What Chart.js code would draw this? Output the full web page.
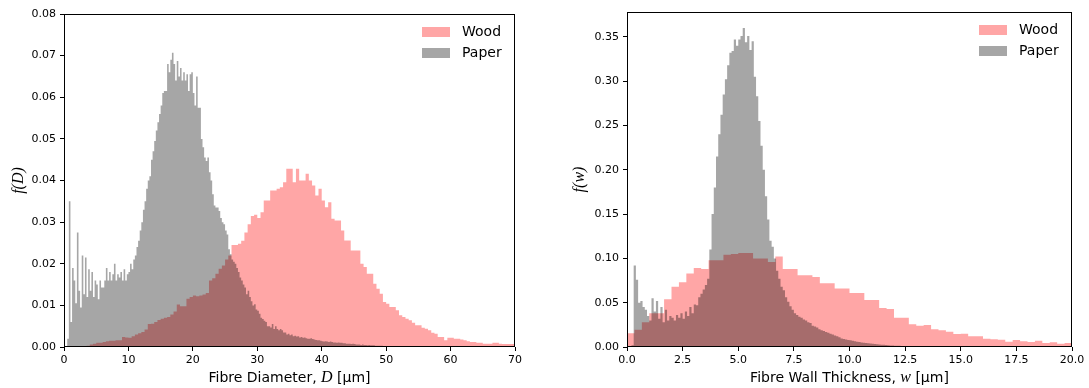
<!DOCTYPE html>
<html>
<head>
<meta charset="utf-8">
<script src="https://cdn.jsdelivr.net/npm/chart.js@4.4.1/dist/chart.umd.min.js"></script>
<style>
  html, body { margin: 0; padding: 0; background: #fff; }
  .panel { position: absolute; top: 0; height: 388px; }
  #left { left: 0; width: 545px; }
  #right { left: 545px; width: 544px; }
</style>
</head>
<body>
<div class="panel" id="left"><canvas id="diameter"></canvas></div>
<div class="panel" id="right"><canvas id="wall"></canvas></div>
<script>
// bin widths of the histograms (in µm)
const diamWoodBin = 0.5;
const diamPaperBin = 0.25;
const wallWoodBin = 1 / 3;
const wallPaperBin = 0.1;

// f(D), wood, bins of 0.5 µm from 0
const diamWood = [
  0, 0, 0, 0, 0.0001, 0.0001,
  0.0002, 0.0003, 0.0006, 0.0008, 0.001, 0.001,
  0.0012, 0.0014, 0.0015, 0.0015, 0.0016, 0.0016,
  0.0024, 0.0023, 0.0022, 0.0026, 0.003, 0.0033,
  0.0036, 0.0042, 0.0055, 0.0056, 0.006, 0.0065,
  0.0068, 0.007, 0.0072, 0.0078, 0.0085, 0.0102,
  0.0098, 0.0098, 0.0116, 0.012, 0.0124, 0.0122,
  0.0124, 0.0126, 0.013, 0.016, 0.0165, 0.0176,
  0.0188, 0.0196, 0.021, 0.022, 0.0245, 0.0245,
  0.0248, 0.0255, 0.0275, 0.0295, 0.0315, 0.0318,
  0.031, 0.0324, 0.0352, 0.0352, 0.0376, 0.0376,
  0.038, 0.0384, 0.0396, 0.0428, 0.0428, 0.0396,
  0.0428, 0.04, 0.04, 0.0416, 0.04, 0.0388,
  0.0364, 0.038, 0.0352, 0.0336, 0.0348, 0.0308,
  0.0304, 0.0304, 0.028, 0.0256, 0.0256, 0.0232,
  0.0232, 0.0232, 0.02, 0.0192, 0.0176, 0.0176,
  0.0152, 0.014, 0.0128, 0.0108, 0.0104, 0.0096,
  0.0096, 0.0088, 0.0076, 0.0072, 0.0068, 0.0064,
  0.0058, 0.0052, 0.0052, 0.0046, 0.0044, 0.004,
  0.0034, 0.0032, 0.0024, 0.0024, 0.0016, 0.0022,
  0.0022, 0.002, 0.002, 0.0018, 0.0016, 0.0014,
  0.0012, 0.0012, 0.001, 0.001, 0.0008, 0.0008,
  0.0008, 0.001, 0.001, 0.0008, 0.0007, 0.0007,
  0.0007, 0.0007
];

// f(D), paper, bins of 0.25 µm from 0
const diamPaper = [
  0, 0, 0.002, 0.035, 0.006, 0.019, 0.016, 0.0105,
  0.0275, 0.0135, 0.0095, 0.022, 0.0127, 0.0215, 0.012, 0.0187,
  0.0135, 0.018, 0.012, 0.016, 0.015, 0.0115, 0.016, 0.0143,
  0.0143, 0.016, 0.019, 0.016, 0.018, 0.016, 0.0175, 0.020,
  0.016, 0.0175, 0.0167, 0.018, 0.016, 0.0187, 0.016, 0.0175,
  0.018, 0.020, 0.0187, 0.021, 0.022, 0.024, 0.0255, 0.028,
  0.030, 0.033, 0.035, 0.038, 0.040, 0.041, 0.045, 0.047,
  0.0495, 0.052, 0.054, 0.056, 0.058, 0.061, 0.0615, 0.0615,
  0.068, 0.066, 0.069, 0.0707, 0.068, 0.064, 0.0687, 0.065,
  0.067, 0.064, 0.066, 0.064, 0.0655, 0.0615, 0.0655, 0.066,
  0.061, 0.058, 0.065, 0.0575, 0.0575, 0.050, 0.048, 0.0455,
  0.0447, 0.0455, 0.042, 0.040, 0.0367, 0.034, 0.0335, 0.0335,
  0.0327, 0.031, 0.030, 0.0295, 0.028, 0.027, 0.0235, 0.0223,
  0.021, 0.0205, 0.020, 0.019, 0.018, 0.0167, 0.016, 0.015,
  0.0143, 0.0127, 0.0135, 0.012, 0.011, 0.010, 0.0103, 0.009,
  0.0087, 0.008, 0.007, 0.0067, 0.0063, 0.006, 0.005, 0.005,
  0.0047, 0.0055, 0.0043, 0.005, 0.0043, 0.004, 0.0043, 0.004,
  0.0035, 0.0035, 0.003, 0.0032, 0.0028, 0.003, 0.0026, 0.0027,
  0.0025, 0.0026, 0.0023, 0.0024, 0.0022, 0.0023, 0.0021, 0.002,
  0.002, 0.0021, 0.0019, 0.0018, 0.0017, 0.0016, 0.0016, 0.0015,
  0.0014, 0.0013, 0.0014, 0.0013, 0.0012, 0.0013, 0.0012, 0.0011,
  0.0011, 0.001, 0.0011, 0.001, 0.001, 0.0009, 0.0009, 0.0008,
  0.0008, 0.0008, 0.0007, 0.0008, 0.0007, 0.0006, 0.0006, 0.0006,
  0.0005, 0.0006, 0.0005, 0.0005, 0.0004, 0.0005, 0.0004, 0.0004,
  0.0004, 0.0003, 0.0003, 0.0003, 0.0003, 0.0003, 0.0002, 0.0002
];

// f(w), wood, bins of 1/3 µm from 0
const wallWood = [
  0.0155, 0.0196, 0.028, 0.038, 0.038, 0.054,
  0.068, 0.073, 0.083, 0.089, 0.088, 0.098,
  0.098, 0.104, 0.105, 0.106, 0.106, 0.100,
  0.100, 0.096, 0.102, 0.088, 0.088, 0.081,
  0.081, 0.079, 0.072, 0.072, 0.066, 0.066,
  0.061, 0.061, 0.053, 0.053, 0.044, 0.043,
  0.033, 0.033, 0.0256, 0.024, 0.0248, 0.020,
  0.019, 0.0173, 0.0147, 0.015, 0.012, 0.012,
  0.0094, 0.0087, 0.0083, 0.006, 0.0079, 0.0064,
  0.0056, 0.0071, 0.0045, 0.0053, 0.0038, 0.0045
];

// f(w), paper, bins of 0.1 µm from 0
const wallPaper = [
  0, 0, 0.002, 0.092, 0.076, 0.05, 0.052, 0.045, 0.042, 0.035,
  0.03, 0.055, 0.04, 0.052, 0.032, 0.045, 0.028, 0.042, 0.03, 0.035,
  0.033, 0.03, 0.036, 0.033, 0.038, 0.032, 0.04, 0.035, 0.045, 0.038,
  0.048, 0.047, 0.056, 0.06, 0.065, 0.07, 0.077, 0.11, 0.15, 0.18,
  0.215, 0.24, 0.262, 0.285, 0.302, 0.318, 0.332, 0.334, 0.347, 0.34,
  0.347, 0.351, 0.36, 0.344, 0.351, 0.335, 0.345, 0.305, 0.283, 0.255,
  0.227, 0.2, 0.17, 0.144, 0.12, 0.113, 0.1, 0.086, 0.077, 0.068,
  0.064, 0.056, 0.051, 0.046, 0.042, 0.038, 0.036, 0.034, 0.033, 0.031,
  0.03, 0.028, 0.027, 0.024, 0.023, 0.022, 0.02, 0.019, 0.018, 0.017,
  0.016, 0.015, 0.014, 0.013, 0.012, 0.011, 0.0095, 0.009, 0.0085, 0.008,
  0.0075, 0.007, 0.0065, 0.006, 0.0056, 0.0052, 0.0048, 0.0045, 0.0042, 0.004,
  0.0036, 0.0033, 0.003, 0.0028, 0.0026, 0.0024, 0.0022, 0.002, 0.0018, 0.0016,
  0.0015, 0.0014, 0.0013, 0.0012, 0.0012, 0.0011, 0.001, 0.001, 0.0009, 0.0009
];

const seriesNames = ['Wood', 'Paper'];

const woodColor = 'rgba(255,0,0,0.35)';
const paperColor = 'rgba(0,0,0,0.35)';

// turn bin heights into step points (left edge of each bin + closing edge)
function steps(width, values) {
  const pts = values.map((v, i) => ({x: i * width, y: v}));
  pts.push({x: values.length * width, y: 0});
  return pts;
}

function histDataset(label, color, width, values, order) {
  return {
    label: label,
    data: steps(width, values),
    stepped: 'before',
    fill: 'origin',
    backgroundColor: color,
    borderColor: 'rgba(0,0,0,0)',
    borderWidth: 0,
    pointRadius: 0,
    order: order
  };
}

// axes box
const frame = {
  id: 'frame',
  afterDatasetsDraw(chart) {
    const a = chart.chartArea;
    const ctx = chart.ctx;
    ctx.save();
    ctx.strokeStyle = '#000';
    ctx.lineWidth = 1;
    ctx.strokeRect(a.left + 0.5, a.top + 0.5, a.right - a.left - 1, a.bottom - a.top - 1);
    ctx.restore();
  }
};

// legend in the upper right corner of the axes
const boxLegend = {
  id: 'boxLegend',
  afterDatasetsDraw(chart) {
    const a = chart.chartArea;
    const ctx = chart.ctx;
    ctx.save();
    ctx.font = '14px "DejaVu Sans"';
    ctx.textBaseline = 'middle';
    seriesNames.forEach((name, i) => {
      const ds = chart.data.datasets.find(d => d.label === name);
      const y = a.top + 18 + i * 21;
      ctx.fillStyle = ds.backgroundColor;
      ctx.fillRect(a.right - 93, y - 5, 28, 10);
      ctx.fillStyle = '#000';
      ctx.fillText(name, a.right - 53, y);
    });
    ctx.restore();
  }
};

// x label with an italic math symbol in the middle
const xLabel = {
  id: 'xLabel',
  afterDraw(chart, args, opts) {
    const a = chart.chartArea;
    const ctx = chart.ctx;
    ctx.save();
    ctx.fillStyle = '#000';
    ctx.textBaseline = 'alphabetic';
    let total = 0;
    opts.parts.forEach(p => { ctx.font = p[1]; total += ctx.measureText(p[0]).width; });
    let x = (a.left + a.right) / 2 - total / 2;
    opts.parts.forEach(p => {
      ctx.font = p[1];
      ctx.fillText(p[0], x, opts.baseline);
      x += ctx.measureText(p[0]).width;
    });
    ctx.restore();
  }
};

const sans = '14px "DejaVu Sans"';
const mathFont = 'italic 16px "Liberation Serif"';

function makeChart(id, cfg) {
  const tickFont = {family: 'DejaVu Sans', size: 11};
  const grid = {drawOnChartArea: false, drawTicks: true, tickLength: 4, color: '#000', lineWidth: 1};
  return new Chart(document.getElementById(id), {
    type: 'line',
    data: {datasets: cfg.datasets},
    plugins: [frame, boxLegend, xLabel],
    options: {
      responsive: true,
      maintainAspectRatio: false,
      animation: false,
      events: [],
      layout: {padding: cfg.padding},
      plugins: {
        legend: {display: false},
        tooltip: {enabled: false},
        xLabel: {parts: cfg.xParts, baseline: 382}
      },
      scales: {
        x: {
          type: 'linear',
          min: cfg.xMin, max: cfg.xMax,
          grid: grid,
          border: {display: false},
          ticks: {
            stepSize: cfg.xStep, autoSkip: false, maxRotation: 0,
            font: tickFont, color: '#000', padding: 3,
            callback: cfg.xFormat
          },
          afterFit(s) { s.height = 41; }
        },
        y: {
          min: 0, max: cfg.yMax,
          grid: grid,
          border: {display: false},
          ticks: {
            stepSize: cfg.yStep, includeBounds: false,
            font: tickFont, color: '#000', padding: 4,
            callback: v => v.toFixed(2)
          },
          title: {
            display: true, text: cfg.yTitle, color: '#000',
            font: {family: 'Liberation Serif', style: 'italic', size: 16},
            padding: {top: cfg.yTitlePad, bottom: 0}
          },
          afterFit(s) { s.width = cfg.yWidth; }
        }
      }
    }
  });
}

makeChart('diameter', {
  datasets: [
    histDataset(seriesNames[0], woodColor, diamWoodBin, diamWood, 1),
    histDataset(seriesNames[1], paperColor, diamPaperBin, diamPaper, 0)
  ],
  padding: {left: 0, right: 30, top: 14, bottom: 0},
  xMin: 0, xMax: 70, xStep: 10,
  xFormat: v => String(v),
  yMax: 0.08, yStep: 0.01,
  yTitle: 'f(D)', yTitlePad: 9, yWidth: 64,
  xParts: [['Fibre Diameter, ', sans], ['D', mathFont], [' [\u03bcm]', sans]]
});

makeChart('wall', {
  datasets: [
    histDataset(seriesNames[0], woodColor, wallWoodBin, wallWood, 1),
    histDataset(seriesNames[1], paperColor, wallPaperBin, wallPaper, 0)
  ],
  padding: {left: 0, right: 17, top: 12, bottom: 0},
  xMin: 0, xMax: 20, xStep: 2.5,
  xFormat: v => v.toFixed(1),
  yMax: 0.378, yStep: 0.05,
  yTitle: 'f(w)', yTitlePad: 25, yWidth: 82,
  xParts: [['Fibre Wall Thickness, ', sans], ['w', mathFont], [' [\u03bcm]', sans]]
});
</script>
</body>
</html>
